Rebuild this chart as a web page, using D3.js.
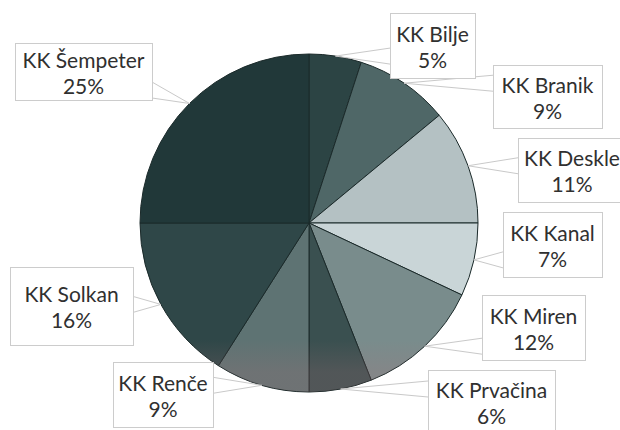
<!DOCTYPE html>
<html>
<head>
<meta charset="utf-8">
<script src="https://cdn.jsdelivr.net/npm/d3@7"></script>
<style>
  html, body { margin: 0; padding: 0; background: #fff; }
  svg { display: block; }
  text { font-family: Lato, "Noto Sans", sans-serif; }
</style>
</head>
<body>
<svg id="chart" width="620" height="430"></svg>
<script>
// Shares of members by club (percent), clockwise from 12 o'clock
const categories = ["KK Bilje", "KK Branik", "KK Deskle", "KK Kanal", "KK Miren",
                    "KK Prvačina", "KK Renče", "KK Solkan", "KK Šempeter"];
const shares = [5, 9, 11, 7, 12, 6, 9, 16, 25];

// Slice fills, same order as categories
const sliceColors = ["#2c4444", "#4f6767", "#b4c1c3", "#c9d5d7", "#798c8c",
                     "#3a5050", "#5e7373", "#2f4748", "#213839"];

// Callout boxes [x, y, width, height], same order as categories
const calloutBoxes = [
  [390, 13, 85, 65],
  [493, 65, 109, 63],
  [518, 138, 108, 64],
  [503, 212, 99, 65],
  [482, 295, 103, 65],
  [428, 370, 127, 64],
  [113, 362, 100, 65],
  [10, 267, 123, 78],
  [15, 43, 137, 57]
];

const cx = 309, cy = 223, radius = 169;

const svg = d3.select("#chart");
const defs = svg.append("defs");

defs.append("clipPath").attr("id", "pieClip")
  .append("circle").attr("cx", cx).attr("cy", cy).attr("r", radius);

const tint = defs.append("linearGradient").attr("id", "bottomTint")
  .attr("gradientUnits", "userSpaceOnUse")
  .attr("x1", 0).attr("x2", 0).attr("y1", 340).attr("y2", 372);
tint.append("stop").attr("offset", 0).attr("stop-color", "#b07078").attr("stop-opacity", 0);
tint.append("stop").attr("offset", 1).attr("stop-color", "#b07078").attr("stop-opacity", 0.2);

const pie = d3.pie().sort(null).value(d => d);
const arcs = pie(shares);
const arc = d3.arc().innerRadius(0).outerRadius(radius);

const g = svg.append("g").attr("transform", `translate(${cx},${cy})`);

g.selectAll("path.slice")
  .data(arcs)
  .join("path")
  .attr("class", "slice")
  .attr("d", arc)
  .attr("fill", (d, i) => sliceColors[i])
  .attr("stroke", "#1b2a2a")
  .attr("stroke-width", 1)
  .attr("stroke-linejoin", "round");

// warm shading toward the bottom rim
svg.append("rect")
  .attr("x", cx - radius).attr("y", cy - radius)
  .attr("width", radius * 2).attr("height", radius * 2)
  .attr("fill", "url(#bottomTint)")
  .attr("clip-path", "url(#pieClip)");

// Callouts: wedge from the box edge to the slice's rim, then the box
const callouts = svg.append("g");

arcs.forEach((d, i) => {
  const [bx, by, bw, bh] = calloutBoxes[i];
  const mid = (d.startAngle + d.endAngle) / 2;
  const tip = [cx + radius * Math.sin(mid), cy - radius * Math.cos(mid)];
  const half = 8;
  let p1, p2;
  if (tip[0] < bx || tip[0] > bx + bw) {
    const ex = tip[0] < bx ? bx : bx + bw;
    const c = Math.max(by + half + 2, Math.min(by + bh - half - 2, tip[1]));
    p1 = [ex, c - half]; p2 = [ex, c + half];
  } else {
    const ey = tip[1] < by ? by : by + bh;
    const c = Math.max(bx + half + 2, Math.min(bx + bw - half - 2, tip[0]));
    p1 = [c - half, ey]; p2 = [c + half, ey];
  }
  callouts.append("path")
    .attr("d", d3.line()([p1, tip, p2]))
    .attr("fill", "none")
    .attr("stroke", "#c9c9c9")
    .attr("stroke-width", 1);
});

const boxG = callouts.selectAll("g.box")
  .data(arcs)
  .join("g")
  .attr("class", "box");

boxG.append("rect")
  .attr("x", (d, i) => calloutBoxes[i][0] + 0.5)
  .attr("y", (d, i) => calloutBoxes[i][1] + 0.5)
  .attr("width", (d, i) => calloutBoxes[i][2])
  .attr("height", (d, i) => calloutBoxes[i][3])
  .attr("fill", "#fff")
  .attr("stroke", "#cccccc")
  .attr("stroke-width", 1);

boxG.append("text")
  .attr("x", (d, i) => calloutBoxes[i][0] + calloutBoxes[i][2] / 2)
  .attr("y", (d, i) => calloutBoxes[i][1] + calloutBoxes[i][3] / 2 - 4)
  .attr("text-anchor", "middle")
  .attr("font-size", 21)
  .attr("fill", "#303030")
  .text((d, i) => categories[i]);

boxG.append("text")
  .attr("x", (d, i) => calloutBoxes[i][0] + calloutBoxes[i][2] / 2)
  .attr("y", (d, i) => calloutBoxes[i][1] + calloutBoxes[i][3] / 2 + 22)
  .attr("text-anchor", "middle")
  .attr("font-size", 21)
  .attr("fill", "#303030")
  .text(d => `${d.data}%`);
</script>
</body>
</html>
